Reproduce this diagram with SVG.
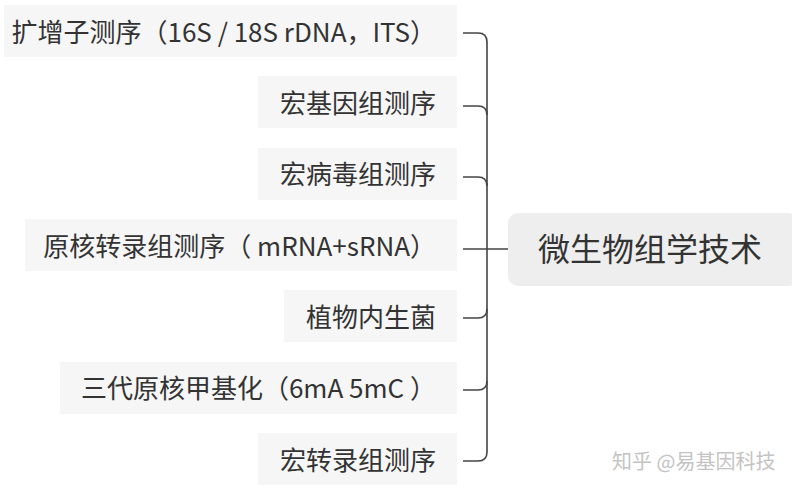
<svg xmlns="http://www.w3.org/2000/svg" width="792" height="494" viewBox="0 0 792 494">
<style>
.box{fill:#f6f6f6}
.t{font-family:"Noto Sans CJK SC","Noto Sans",sans-serif;font-size:26px;fill:#333;text-anchor:end}
.c{font-family:"Noto Sans CJK SC","Noto Sans",sans-serif;font-size:32px;fill:#333;text-anchor:middle}
.ln{fill:none;stroke:#444;stroke-width:1.6}
.wm{font-family:"Noto Sans CJK SC","Noto Sans",sans-serif;font-size:20px;fill:#c4c4c4}
</style>
<rect width="792" height="494" fill="#ffffff"/>
<g id="connectors">
<path class="ln" d="M463 33 H478 Q487 33 487 42 V452 Q487 461 478 461 H463"/>
<path class="ln" d="M463 106 H478 Q487 106 487 115"/>
<path class="ln" d="M463 177 H478 Q487 177 487 186"/>
<path class="ln" d="M463 249 H508"/>
<path class="ln" d="M463 318 H478 Q487 318 487 309"/>
<path class="ln" d="M463 390 H478 Q487 390 487 381"/>
</g>
<g id="n1"><rect class="box" x="4" y="5" width="453" height="52"/><text class="t" x="436" y="42">扩增子测序（16S / 18S rDNA，ITS）</text></g>
<g id="n2"><rect class="box" x="258" y="76" width="199" height="52"/><text class="t" x="436" y="113">宏基因组测序</text></g>
<g id="n3"><rect class="box" x="258" y="148" width="199" height="52"/><text class="t" x="436" y="184">宏病毒组测序</text></g>
<g id="n4"><rect class="box" x="25" y="219" width="432" height="52"/><text class="t" x="436" y="256">原核转录组测序（ mRNA+sRNA）</text></g>
<g id="n5"><rect class="box" x="284" y="290" width="173" height="52"/><text class="t" x="436" y="327">植物内生菌</text></g>
<g id="n6"><rect class="box" x="60" y="362" width="397" height="52"/><text class="t" x="436" y="398">三代原核甲基化（6mA 5mC ）</text></g>
<g id="n7"><rect class="box" x="258" y="433" width="199" height="52"/><text class="t" x="436" y="470">宏转录组测序</text></g>
<g id="center"><rect x="508" y="213" width="290" height="73" rx="10" fill="#eeeeee"/><text class="c" x="650" y="261">微生物组学技术</text></g>
<text class="wm" x="612" y="469">知乎 @易基因科技</text>
</svg>
